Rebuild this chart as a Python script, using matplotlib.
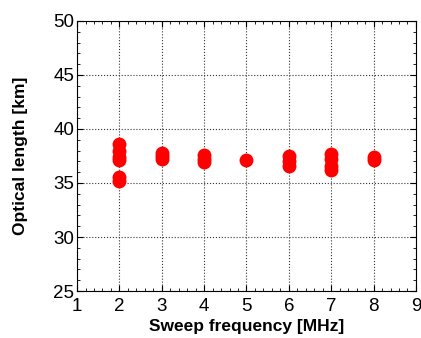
import matplotlib
matplotlib.use("Agg")
import matplotlib.pyplot as plt
from matplotlib.ticker import MultipleLocator

# sweep frequency [MHz] and measured optical length [km]
freq_2 = [2, 2, 2, 2, 2, 2]
len_2 = [38.6, 38.0, 37.4, 37.1, 35.6, 35.2]
freq_3 = [3, 3, 3]
len_3 = [37.8, 37.5, 37.2]
freq_4 = [4, 4, 4]
len_4 = [37.6, 37.2, 36.9]
freq_5 = [5]
len_5 = [37.1]
freq_6 = [6, 6, 6]
len_6 = [37.5, 37.0, 36.6]
freq_7 = [7, 7, 7, 7]
len_7 = [37.7, 37.2, 36.6, 36.2]
freq_8 = [8, 8]
len_8 = [37.4, 37.1]

freqs = freq_2 + freq_3 + freq_4 + freq_5 + freq_6 + freq_7 + freq_8
lengths = len_2 + len_3 + len_4 + len_5 + len_6 + len_7 + len_8

plt.rcParams['font.family'] = ['Liberation Sans', 'DejaVu Sans']

fig = plt.figure(figsize=(4.21, 3.38), dpi=100)
ax = fig.add_axes([0.183, 0.139, 0.805, 0.799])

ax.plot(freqs, lengths, 'o', color='#ff0000', markersize=10, markeredgewidth=0)

ax.set_xlim(1, 9)
ax.set_ylim(25, 50)
ax.xaxis.set_major_locator(MultipleLocator(1))
ax.yaxis.set_major_locator(MultipleLocator(5))
ax.xaxis.set_minor_locator(MultipleLocator(0.2))
ax.yaxis.set_minor_locator(MultipleLocator(1))
ax.tick_params(which='both', direction='in', top=True, right=True, labelsize=13.5)
ax.tick_params(axis='x', pad=5)
ax.tick_params(axis='y', pad=2)
ax.tick_params(which='major', length=4)
ax.tick_params(which='minor', length=2)
ax.grid(True, which='major', linestyle=':', color='#333333', linewidth=0.8)

ax.set_xlabel('Sweep frequency [MHz]', fontsize=12.5, fontweight='bold', labelpad=3)
ax.set_ylabel('Optical length [km]', fontsize=12.5, fontweight='bold', labelpad=18)

fig.savefig('out.png', dpi=100)
